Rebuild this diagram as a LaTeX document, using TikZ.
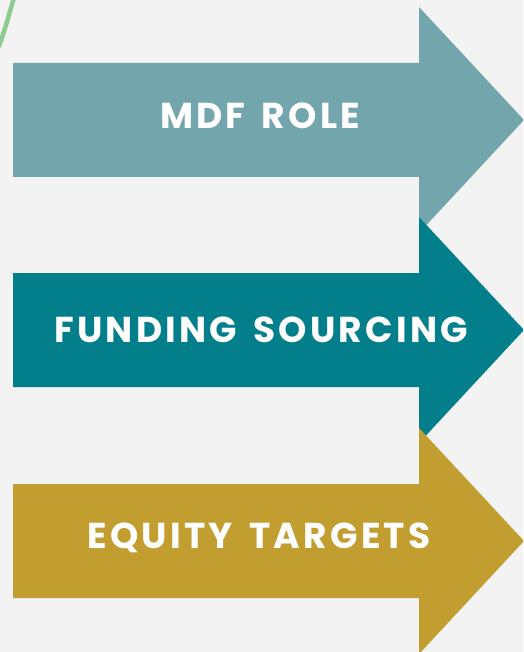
\documentclass[tikz,border=0pt]{standalone}
\usepackage{fontspec}
\setmainfont{Poppins}
\newfontfamily\bandfont{Poppins}[LetterSpace=9,WordSpace=1.5]
\usetikzlibrary{positioning}
\definecolor{paper}{HTML}{F3F3F3}
\definecolor{greyteal}{HTML}{73A5AD}
\definecolor{deepteal}{HTML}{037F8C}
\definecolor{mustard}{HTML}{C29D30}
\definecolor{leafgreen}{HTML}{7CC47E}
% one fat arrow: colour, centre line
\newcommand{\bandarrow}[2]{%
 \fill[#1] (13,#2-57) -- (419,#2-57) -- (419,#2-113) -- (524,#2) -- (419,#2+113) -- (419,#2+57) -- (13,#2+57) -- cycle;}

\begin{document}
\begin{tikzpicture}[x=1pt,y=-1pt,
 bandtext/.style={text=white,inner sep=0pt,font=\bandfont\bfseries\fontsize{36}{42}\selectfont}]
\useasboundingbox (0,0) rectangle (523,652);
\clip (0,0) rectangle (523,652);
\fill[paper] (0,0) rectangle (523,652);
% stray pen stroke in the corner
\draw[leafgreen,line width=4.5pt,line cap=round,opacity=0.85] (-1,46) .. controls (5,30) and (9,14) .. (14,-2);
\bandarrow{greyteal}{120}
\bandarrow{deepteal}{330}
\bandarrow{mustard}{541}
\node[bandtext] (role) at (260,116) {MDF ROLE};
\node[bandtext] (funding) at (261,330) {FUNDING SOURCING};
\node[bandtext] (equity) at (259,538) {EQUITY TARGETS};
\end{tikzpicture}
\end{document}
